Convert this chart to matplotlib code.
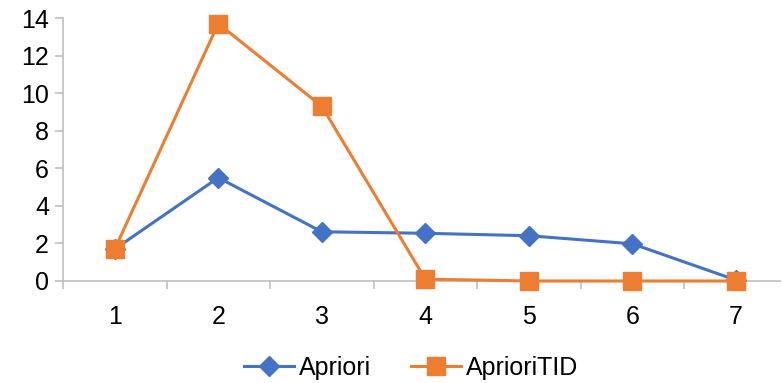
import matplotlib.pyplot as plt
from matplotlib.ticker import FixedLocator, NullFormatter

plt.rcParams['font.family'] = ['Liberation Sans', 'DejaVu Sans']

# dane
categories = [1, 2, 3, 4, 5, 6, 7]
apriori = [1.7, 5.5, 2.62, 2.54, 2.41, 1.98, 0.05]
apriori_tid = [1.7, 13.7, 9.3, 0.1, 0.0, 0.0, 0.0]

BLUE = '#4472c4'
ORANGE = '#ed7d31'
GRAY = '#bfbfbf'

fig = plt.figure(figsize=(7.82, 3.83), dpi=100)
ax = fig.add_axes([63 / 782, 1 - 281 / 383, 1 - 63 / 782 - 0.002, (281 - 18) / 383])

ax.plot(categories, apriori, color=BLUE, lw=2.2, marker='D', ms=10,
        label='Apriori', zorder=2, clip_on=False)
ax.plot(categories, apriori_tid, color=ORANGE, lw=2.2, marker='s', ms=12.5,
        label='AprioriTID', zorder=3, clip_on=False)

ax.set_xlim(0.5, 7.43)
ax.set_ylim(0, 14)
ax.set_yticks(range(0, 15, 2))
ax.set_xticks(categories)
ax.tick_params(axis='x', which='major', length=0, pad=17, labelsize=18)
ax.xaxis.set_minor_locator(FixedLocator([c - 0.5 for c in categories] + [7.5]))
ax.xaxis.set_minor_formatter(NullFormatter())
ax.tick_params(axis='x', which='minor', length=6, color=GRAY, width=1.2)
ax.tick_params(axis='y', length=6, color=GRAY, width=1.2, labelsize=18, pad=4)

for s in ['top', 'right']:
    ax.spines[s].set_visible(False)
for s in ['left', 'bottom']:
    ax.spines[s].set_color(GRAY)
    ax.spines[s].set_linewidth(1.2)
ax.spines['bottom'].set_zorder(1)

ax.legend(loc='center', bbox_to_anchor=(0.485, -0.33), ncol=2, frameon=False,
          fontsize=18, handlelength=2.0, columnspacing=1.6, handletextpad=0.2)

fig.savefig('out.png', dpi=100)
